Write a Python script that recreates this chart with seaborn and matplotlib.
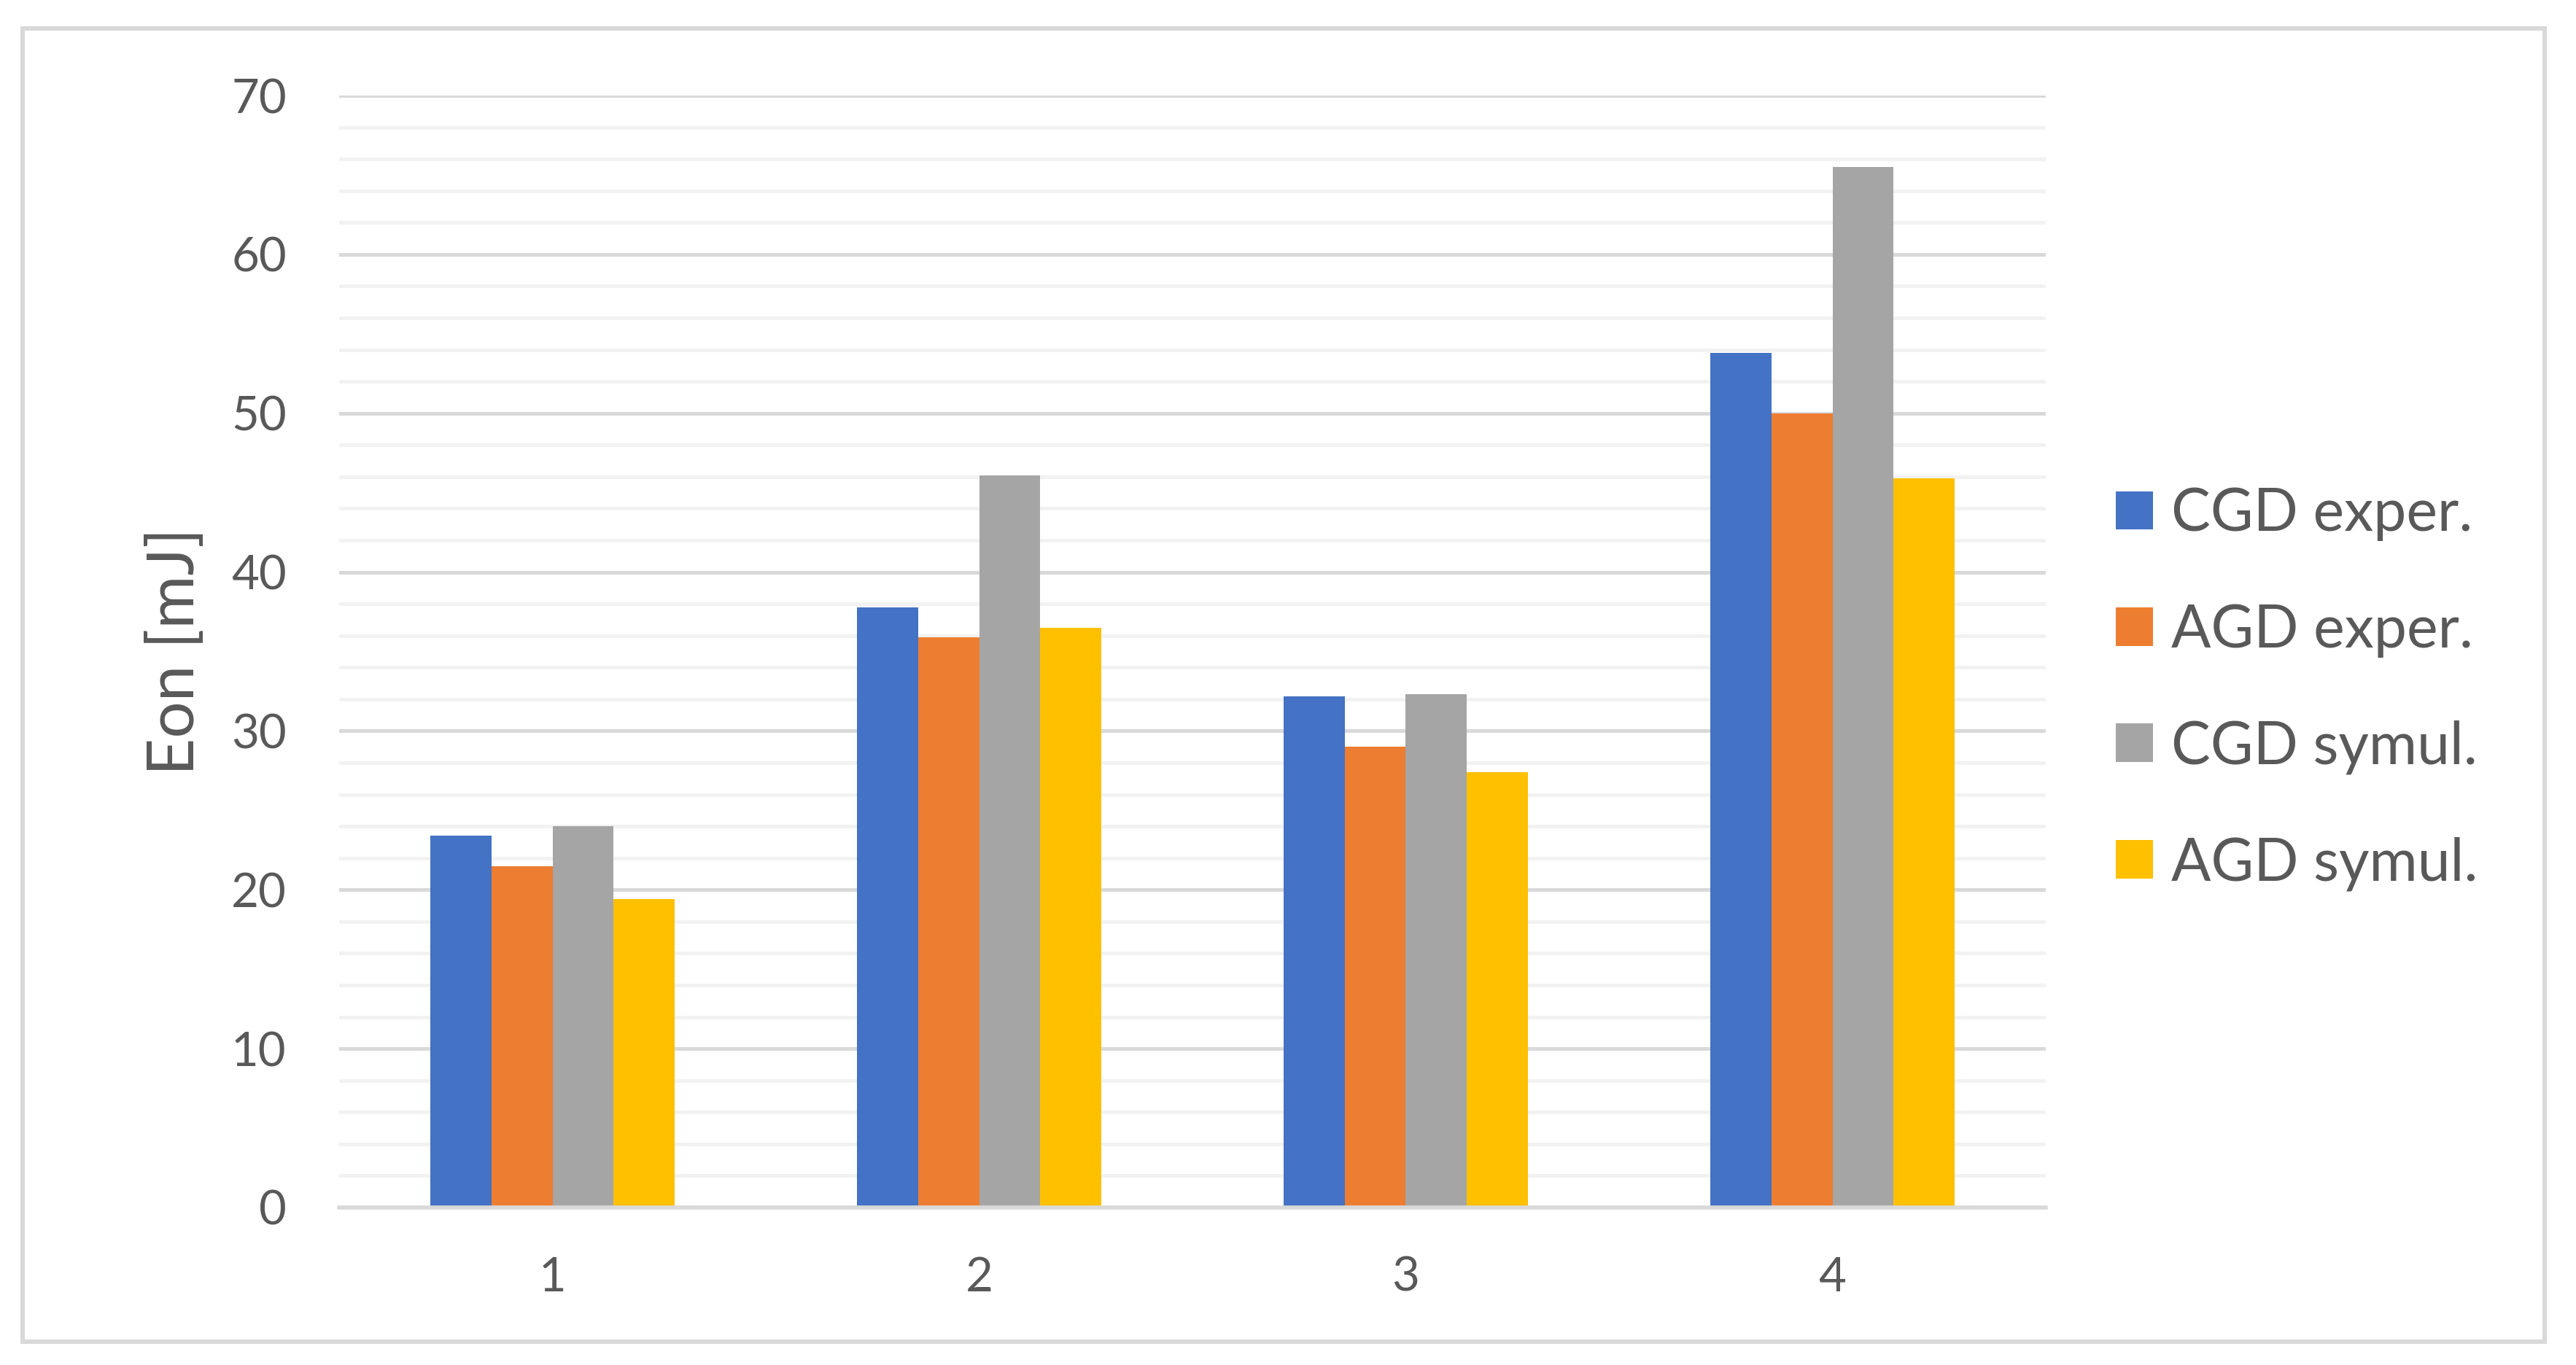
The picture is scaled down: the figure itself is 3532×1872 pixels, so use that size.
import matplotlib
matplotlib.use("Agg")
import matplotlib.pyplot as plt
import seaborn as sns
import pandas as pd
import numpy as np
from matplotlib.patches import Rectangle

categories = ["1", "2", "3", "4"]
series_names = ["CGD exper.", "AGD exper.", "CGD symul.", "AGD symul."]
cgd_exper = [23.4, 37.8, 32.2, 53.8]
agd_exper = [21.5, 35.9, 29.0, 50.0]
cgd_symul = [24.0, 46.1, 32.3, 65.5]
agd_symul = [19.4, 36.5, 27.4, 45.9]
colors = ["#4472C4", "#ED7D31", "#A5A5A5", "#FFC000"]
y_ticks = [0, 10, 20, 30, 40, 50, 60, 70]
y_label = "Eon [mJ]"

rows = []
for name, vals in zip(series_names, [cgd_exper, agd_exper, cgd_symul, agd_symul]):
    for c, v in zip(categories, vals):
        rows.append({"cat": c, "series": name, "value": v})
df = pd.DataFrame(rows)

sns.set_theme(style="white")
plt.rcParams["font.family"] = ["Lato", "DejaVu Sans"]
text_color = "#595959"

W, H, DPI = 3532, 1872, 200
fig = plt.figure(figsize=(W / DPI, H / DPI), dpi=DPI)
ax = fig.add_axes([465 / W, 1 - 1656 / H, (2805 - 465) / W, (1656 - 131) / H])

sns.barplot(data=df, x="cat", y="value", hue="series", order=categories,
            hue_order=series_names, palette=colors, saturation=1,
            width=4 / 7, gap=0, linewidth=0, ax=ax, legend=False, zorder=3)

ax.set_xlim(-0.5, 3.5)
ax.set_ylim(0, 70)
ax.set_yticks(y_ticks)
ax.set_yticks(np.arange(0, 71, 2), minor=True)
ax.grid(which="major", axis="y", color="#D9D9D9", linewidth=1.8, zorder=0)
ax.grid(which="minor", axis="y", color="#F2F2F2", linewidth=1.8, zorder=0)
ax.grid(which="major", axis="x", visible=False)
ax.set_axisbelow(True)
for s in ["left", "right", "top"]:
    ax.spines[s].set_visible(False)
ax.spines["bottom"].set_color("#D9D9D9")
ax.spines["bottom"].set_linewidth(2.0)
ax.spines["bottom"].set_zorder(4)
ax.tick_params(axis="both", which="both", length=0, labelsize=23.5, colors=text_color)
ax.tick_params(axis="y", pad=26)
ax.tick_params(axis="x", pad=24)
ax.set_xlabel("")
ax.set_ylabel("")
fig.text(241 / W, 1 - 893 / H, y_label, rotation=90, ha="center", va="center",
         fontsize=32, color=text_color)

handles = [Rectangle((0, 0), 1, 1, facecolor=c, edgecolor="none") for c in colors]
fig.legend(handles, series_names, loc="center left",
           bbox_to_anchor=(2901 / W, 1 - 945 / H), frameon=False,
           fontsize=29, labelcolor=text_color, handlelength=0.63,
           handleheight=0.63, handletextpad=0.31, labelspacing=1.06,
           borderpad=0, borderaxespad=0)

fig.patches.append(Rectangle((31 / W, 32 / H), 3458 / W, 1801 / H,
                             transform=fig.transFigure, fill=False,
                             edgecolor="#D9D9D9", linewidth=2.2, zorder=10))

fig.savefig("out.png", dpi=DPI, facecolor="white")
